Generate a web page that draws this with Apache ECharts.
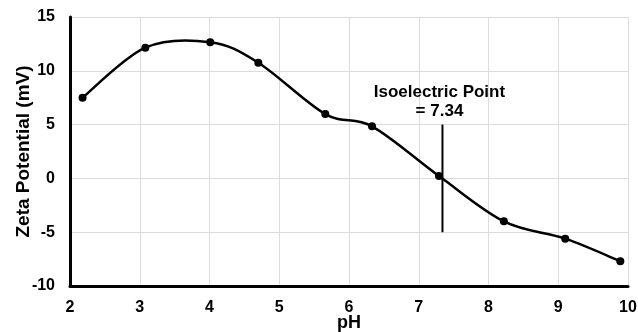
<!DOCTYPE html>
<html><head><meta charset="utf-8">
<script src="https://cdn.jsdelivr.net/npm/echarts@6/dist/echarts.min.js"></script>
<style>html,body{margin:0;padding:0;background:#fff}#c{width:638px;height:332px}</style>
</head><body><div id="c"></div>
<script>
const phValues = [2.18, 3.08, 4.01, 4.70, 5.66, 6.33, 7.29, 8.22, 9.10, 9.89];
const zetaValues = [7.5, 12.15, 12.65, 10.75, 5.98, 4.84, 0.22, -3.99, -5.6, -7.7];
const isoPH = [7.34, 7.34];
const isoZeta = [5, -5];
const isoLabel = 'Isoelectric Point\n= 7.34';
const xTicks = [2, 3, 4, 5, 6, 7, 8, 9, 10];
const yTicks = [-10, -5, 0, 5, 10, 15];

const font = 'Liberation Sans, Arial, sans-serif';
const chart = echarts.init(document.getElementById('c'), null, {renderer: 'canvas'});

function smoothPath(api) {
  const pts = phValues.map((x, i) => api.coord([x, zetaValues[i]]));
  const n = pts.length;
  let d = 'M' + pts[0][0] + ' ' + pts[0][1];
  for (let i = 0; i < n - 1; i++) {
    const p0 = pts[Math.max(i - 1, 0)], p1 = pts[i], p2 = pts[i + 1], p3 = pts[Math.min(i + 2, n - 1)];
    const c1 = [p1[0] + (p2[0] - p0[0]) / 6, p1[1] + (p2[1] - p0[1]) / 6];
    const c2 = [p2[0] - (p3[0] - p1[0]) / 6, p2[1] - (p3[1] - p1[1]) / 6];
    d += ' C' + c1[0] + ' ' + c1[1] + ' ' + c2[0] + ' ' + c2[1] + ' ' + p2[0] + ' ' + p2[1];
  }
  return d;
}

chart.setOption({
  animation: false,
  grid: {left: 70, right: 10, top: 17, bottom: 46, outerBoundsMode: 'none', containLabel: false},
  xAxis: {
    type: 'value', min: xTicks[0], max: xTicks[xTicks.length-1], interval: 1,
    name: 'pH', nameLocation: 'middle', nameGap: 28, nameMoveOverlap: false,
    nameTextStyle: {fontFamily: font, fontWeight: 'bold', fontSize: 18, color: '#000'},
    axisLine: {show: true, onZero: false, lineStyle: {color: '#000', width: 3}},
    axisTick: {show: false},
    axisLabel: {fontFamily: font, fontWeight: 'bold', fontSize: 16, color: '#000', margin: 14},
    splitLine: {show: true, lineStyle: {color: '#dcdcdc', width: 1}}
  },
  yAxis: {
    type: 'value', min: yTicks[0], max: yTicks[yTicks.length-1], interval: 5,
    name: 'Zeta Potential (mV)', nameLocation: 'middle', nameGap: 37, nameMoveOverlap: false,
    nameTextStyle: {fontFamily: font, fontWeight: 'bold', fontSize: 19, color: '#000'},
    axisLine: {show: true, lineStyle: {color: '#000', width: 3}},
    axisTick: {show: false},
    axisLabel: {fontFamily: font, fontWeight: 'bold', fontSize: 16, color: '#000', margin: 15},
    splitLine: {show: true, lineStyle: {color: '#dcdcdc', width: 1}}
  },
  series: [
    {
      type: 'custom',
      data: [[phValues[0], zetaValues[0]]],
      renderItem: function (params, api) {
        return {type: 'path', shape: {pathData: smoothPath(api)},
          style: {fill: 'none', stroke: '#000', lineWidth: 2.5}};
      },
      silent: true, z: 2
    },
    {
      type: 'scatter',
      data: phValues.map((x, i) => [x, zetaValues[i]]),
      symbol: 'circle', symbolSize: 8,
      itemStyle: {color: '#000', opacity: 1}, z: 3
    },
    {
      type: 'line',
      data: isoPH.map((x, i) => [x, isoZeta[i]]),
      symbol: 'none',
      lineStyle: {color: '#000', width: 2}
    },
    {
      type: 'scatter',
      data: [[isoPH[0], isoZeta[0]]],
      symbolSize: 0,
      itemStyle: {opacity: 1},
      label: {
        show: true, position: 'top', distance: 4, formatter: isoLabel,
        fontFamily: font, fontWeight: 'bold', fontSize: 17, color: '#000',
        lineHeight: 19, align: 'center', offset: [-3, 0]
      }
    }
  ]
});
</script></body></html>
